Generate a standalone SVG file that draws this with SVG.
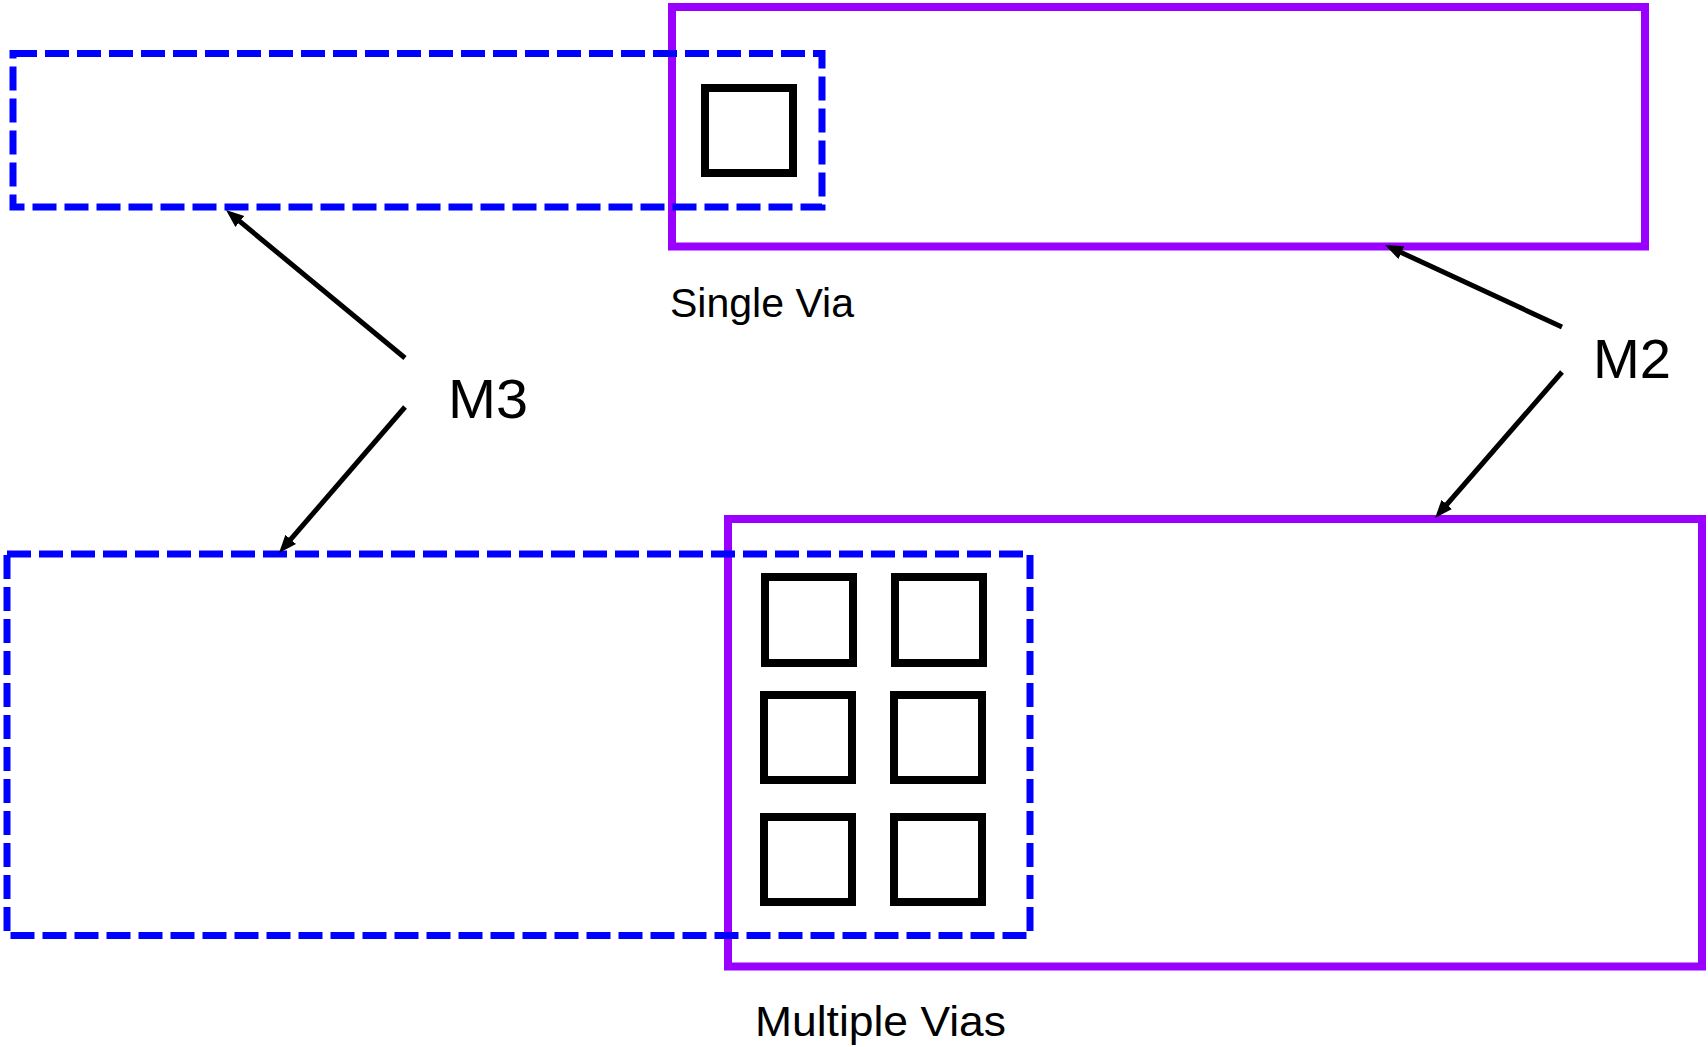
<svg xmlns="http://www.w3.org/2000/svg" width="1708" height="1047" viewBox="0 0 1708 1047">
<style>
.m2{fill:none;stroke:#9900FF;stroke-width:8}
.m3{fill:none;stroke:#0000FF;stroke-width:7;stroke-dasharray:24 8}
.via{fill:none;stroke:#000;stroke-width:8}
.conn{fill:none;stroke:#000;stroke-width:5}
.lbl{font-family:"Liberation Sans",Arial,sans-serif;fill:#000}
</style>
<defs>
<marker id="ah" markerUnits="userSpaceOnUse" markerWidth="20" markerHeight="16" refX="8" refY="7" orient="auto">
<path d="M0,0 L18,7 L0,14 z" fill="#000"/>
</marker>
</defs>
<rect width="1708" height="1047" fill="#fff"/>
<g id="m2-top"><rect class="m2" x="672" y="7" width="973" height="239.5"/></g>
<g id="m2-bottom"><rect class="m2" x="728" y="519" width="974" height="447.5"/></g>
<g id="m3-top"><rect class="m3" x="13" y="53.5" width="809" height="153.5"/></g>
<g id="m3-bottom"><rect class="m3" x="7" y="554" width="1023" height="381.5"/></g>
<g id="via-single"><rect class="via" x="705" y="88" width="88" height="85"/></g>
<g id="vias-multiple">
<rect class="via" x="765" y="577" width="88" height="86"/>
<rect class="via" x="895" y="577" width="88" height="86"/>
<rect class="via" x="764" y="695" width="88" height="85"/>
<rect class="via" x="894" y="695" width="88" height="85"/>
<rect class="via" x="764" y="817" width="88" height="85"/>
<rect class="via" x="894" y="817" width="88" height="85"/>
</g>
<g id="connectors">
<line class="conn" x1="405" y1="358" x2="233.7" y2="216.4" marker-end="url(#ah)"/>
<line class="conn" x1="405" y1="407" x2="285.5" y2="545.4" marker-end="url(#ah)"/>
<line class="conn" x1="1562" y1="327" x2="1394.1" y2="249.2" marker-end="url(#ah)"/>
<line class="conn" x1="1562" y1="372" x2="1441.6" y2="510.5" marker-end="url(#ah)"/>
</g>
<g id="label-m3"><text class="lbl" x="448" y="418" font-size="56" textLength="80" lengthAdjust="spacingAndGlyphs">M3</text></g>
<g id="label-m2"><text class="lbl" x="1593" y="378" font-size="56" textLength="78" lengthAdjust="spacingAndGlyphs">M2</text></g>
<g id="label-single"><text class="lbl" x="670" y="317" font-size="41" textLength="184" lengthAdjust="spacingAndGlyphs">Single Via</text></g>
<g id="label-multiple"><text class="lbl" x="755" y="1036" font-size="42" textLength="251" lengthAdjust="spacingAndGlyphs">Multiple Vias</text></g>
</svg>
